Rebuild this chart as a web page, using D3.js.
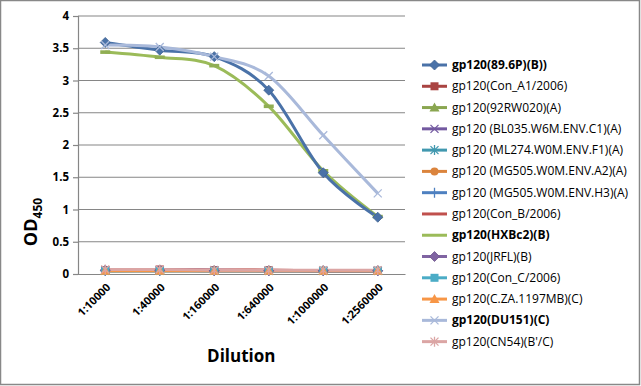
<!DOCTYPE html>
<html><head><meta charset="utf-8">
<script src="https://cdn.jsdelivr.net/npm/d3@7"></script>
<style>body{margin:0;background:#fff}svg{display:block}</style>
</head><body>
<svg id="c" width="641" height="386"></svg>
<script>
const dilutions = ["1:10000","1:40000","1:160000","1:640000","1:1000000","1:2560000"];
const yTicks = [0,0.5,1,1.5,2,2.5,3,3.5,4];
const seriesNames = ["gp120(89.6P)(B))","gp120(Con_A1/2006)","gp120(92RW020)(A)","gp120 (BL035.W6M.ENV.C1)(A)","gp120 (ML274.W0M.ENV.F1)(A)","gp120 (MG505.W0M.ENV.A2)(A)","gp120 (MG505.W0M.ENV.H3)(A)","gp120(Con_B/2006)","gp120(HXBc2)(B)","gp120(JRFL)(B)","gp120(Con_C/2006)","gp120(C.ZA.1197MB)(C)","gp120(DU151)(C)","gp120(CN54)(B'/C)"];
const v896P   = [3.59,3.47,3.37,2.85,1.57,0.88];
const vConA1  = [0.06,0.07,0.06,0.06,0.05,0.05];
const v92RW   = [0.05,0.06,0.05,0.05,0.05,0.05];
const vBL035  = [0.06,0.06,0.06,0.05,0.05,0.05];
const vML274  = [0.05,0.05,0.05,0.05,0.05,0.05];
const vMG505A2= [0.05,0.05,0.05,0.05,0.05,0.05];
const vMG505H3= [0.05,0.05,0.05,0.05,0.05,0.05];
const vConB   = [0.06,0.06,0.06,0.06,0.05,0.05];
const vHXBc2  = [3.44,3.36,3.23,2.60,1.60,0.89];
const vJRFL   = [0.06,0.06,0.05,0.05,0.05,0.05];
const vConC   = [0.05,0.05,0.05,0.05,0.05,0.05];
const vCZA    = [0.05,0.05,0.05,0.05,0.05,0.05];
const vDU151  = [3.55,3.52,3.37,3.07,2.15,1.25];
const vCN54   = [0.07,0.07,0.06,0.06,0.06,0.06];
const seriesValues = [v896P,vConA1,v92RW,vBL035,vML274,vMG505A2,vMG505H3,vConB,vHXBc2,vJRFL,vConC,vCZA,vDU151,vCN54];
const colors = ["#4A72A8","#A94442","#8AA650","#7359A0","#4198AF","#DB843D","#4E80C0","#C0504D","#9BBB59","#8064A2","#4BACC6","#F79646","#A9B9DA","#DBA5A4"];
const markers = ["diamond","square","triangle","x","star","circle","plus","none","dash","diamond","square","triangle","x","star"];
const boldSet = [0,8,12];

const svg = d3.select("#c");
svg.append("rect").attr("x",0.5).attr("y",0.5).attr("width",639).attr("height",384)
  .attr("fill","#fff").attr("stroke","#888").attr("stroke-width",1.5);

const L=78,R=405,T=16,B=274;
const x = d3.scaleBand().domain(dilutions).range([L,R]);
const y = d3.scaleLinear().domain([0,4]).range([B,T]);
const cx = d => x(d)+x.bandwidth()/2;

svg.append("g").selectAll("line").data(yTicks.filter(t=>t>0)).join("line")
  .attr("x1",L).attr("x2",R).attr("y1",d=>y(d)).attr("y2",d=>y(d))
  .attr("stroke","#868686").attr("stroke-width",1.2);

const ya = svg.append("g").attr("transform",`translate(${L},0)`)
  .call(d3.axisLeft(y).tickValues(yTicks).tickSize(5).tickPadding(4).tickFormat(d3.format("")));
ya.select(".domain").attr("stroke","#868686").attr("stroke-width",1.2);
ya.selectAll(".tick line").attr("stroke","#868686").attr("stroke-width",1.2);
ya.selectAll("text").attr("font-family","Open Sans, Liberation Sans, sans-serif").attr("font-size",11.5).attr("font-weight","bold").attr("fill","#000");

const xa = svg.append("g").attr("transform",`translate(0,${B})`)
  .call(d3.axisBottom(x).tickSize(0).tickPadding(0));
xa.select(".domain").attr("stroke","#868686").attr("stroke-width",1.2);
xa.selectAll("text").attr("font-family","Open Sans, Liberation Sans, sans-serif").attr("font-size",11)
  .attr("font-weight","bold").attr("fill","#000")
  .attr("text-anchor","end").attr("dy",0)
  .attr("transform","translate(6,14) rotate(-45)");

svg.append("text").attr("x",cx(dilutions[2])+27).attr("y",362).attr("text-anchor","middle")
  .attr("font-family","Open Sans, Liberation Sans, sans-serif").attr("font-size",17).attr("font-weight","bold").text("Dilution");
const yt = svg.append("text").attr("transform","translate(37,222) rotate(-90)").attr("text-anchor","middle")
  .attr("font-family","Open Sans, Liberation Sans, sans-serif").attr("font-size",18).attr("font-weight","bold");
yt.append("tspan").text("OD");
yt.append("tspan").attr("font-size",12).attr("dy",5).text("450");

function drawMarker(g, type, color, px, py, s){
  const big = s||1;
  if(type==="diamond"){ g.append("path").attr("d",`M${px},${py-5*big}L${px+5*big},${py}L${px},${py+5*big}L${px-5*big},${py}Z`).attr("fill",color).attr("stroke",d3.color(color).darker(0.4)).attr("stroke-width",0.8);}
  else if(type==="square"){ g.append("rect").attr("x",px-4*big).attr("y",py-4*big).attr("width",8*big).attr("height",8*big).attr("fill",color);}
  else if(type==="triangle"){ g.append("path").attr("d",`M${px},${py-5*big}L${px+5*big},${py+4*big}L${px-5*big},${py+4*big}Z`).attr("fill",color);}
  else if(type==="circle"){ g.append("circle").attr("cx",px).attr("cy",py).attr("r",4*big).attr("fill",color);}
  else if(type==="x"){ g.append("path").attr("d",`M${px-4*big},${py-4*big}L${px+4*big},${py+4*big}M${px+4*big},${py-4*big}L${px-4*big},${py+4*big}`).attr("stroke",color).attr("stroke-width",1.3).attr("fill","none");}
  else if(type==="star"){ g.append("path").attr("d",`M${px-4*big},${py-4*big}L${px+4*big},${py+4*big}M${px+4*big},${py-4*big}L${px-4*big},${py+4*big}M${px},${py-5*big}L${px},${py+5*big}`).attr("stroke",color).attr("stroke-width",1.3).attr("fill","none");}
  else if(type==="plus"){ g.append("path").attr("d",`M${px},${py-5*big}L${px},${py+5*big}M${px-5*big},${py}L${px+5*big},${py}`).attr("stroke",color).attr("stroke-width",1.3).attr("fill","none");}
  else if(type==="dash"){ g.append("rect").attr("x",px-5).attr("y",py-1.8).attr("width",10).attr("height",3.6).attr("fill",d3.color(color).darker(0.2));}
}

const line = d3.line().x((d,i)=>cx(dilutions[i])).y(d=>y(d)).curve(d3.curveCatmullRom.alpha(0));
const order = [1,2,3,4,5,6,7,9,10,11,13,8,0,12];
const plot = svg.append("g");
order.forEach(si=>{
  plot.append("path").datum(seriesValues[si]).attr("d",line).attr("fill","none")
    .attr("stroke",colors[si]).attr("stroke-width",3).attr("stroke-linejoin","round");
});
order.forEach(si=>{
  const g = plot.append("g");
  seriesValues[si].forEach((v,i)=>drawMarker(g,markers[si],colors[si],cx(dilutions[i]),y(v),1));
});

const lg = svg.append("g");
seriesNames.forEach((n,i)=>{
  const yy = 65 + i*21.28;
  lg.append("line").attr("x1",422).attr("x2",447).attr("y1",yy).attr("y2",yy).attr("stroke",colors[i]).attr("stroke-width",3);
  if(markers[i]!=="dash") drawMarker(lg,markers[i],colors[i],434.5,yy,1);
  lg.append("text").attr("x",452).attr("y",yy+4).attr("font-family","Open Sans, Liberation Sans, sans-serif")
    .attr("font-size",12).attr("font-weight",boldSet.includes(i)?"bold":"normal").attr("fill","#000").text(n);
});
</script>
</body></html>
